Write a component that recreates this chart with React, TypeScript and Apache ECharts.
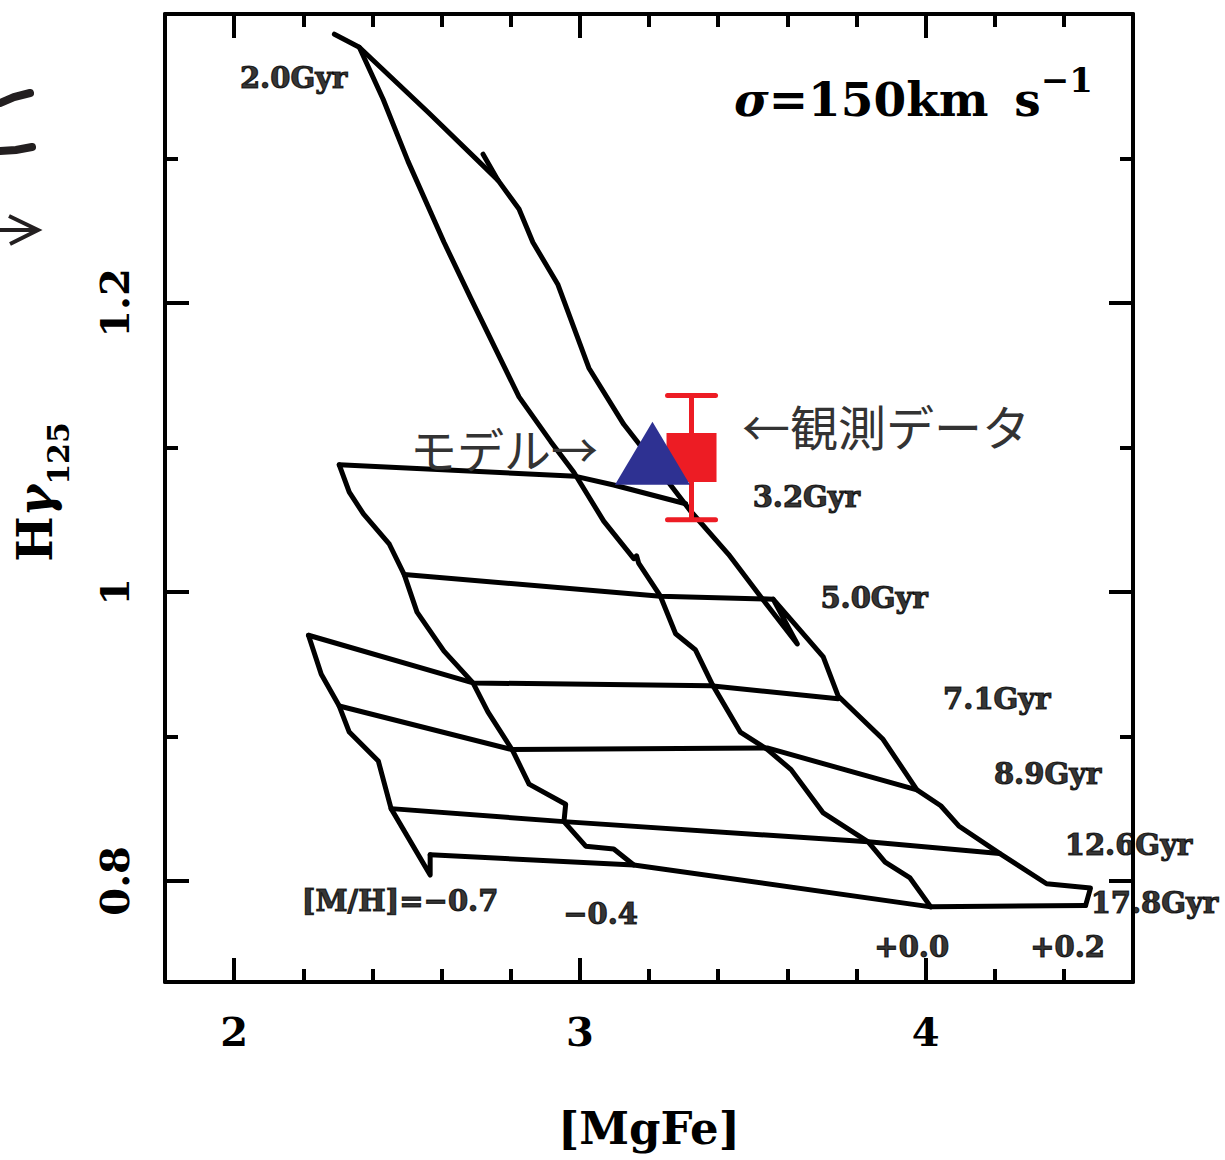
import React, { useEffect, useRef } from "react";
import * as echarts from "echarts";

// ---- axis ticks ----
const xMajorTicks = [2, 3, 4];
const xMinorTicks = [2.2, 2.4, 2.6, 2.8, 3.2, 3.4, 3.6, 3.8, 4.2, 4.4];
const yMajorTicks = [0.8, 1.0, 1.2];
const yMinorTicks = [0.9, 1.1, 1.3];

// ---- model grid: metallicity tracks ([MgFe], Hγ125) ----
const trackM07 = [[2.215, 0.970], [2.252, 0.943], [2.304, 0.921], [2.333, 0.903], [2.417, 0.883], [2.454, 0.850], [2.567, 0.804], [2.567, 0.818]];
const trackM04 = [[2.304, 1.088], [2.333, 1.069], [2.374, 1.054], [2.449, 1.033], [2.492, 1.012], [2.529, 0.986], [2.607, 0.959], [2.691, 0.937], [2.734, 0.917], [2.806, 0.890], [2.853, 0.867], [2.959, 0.853], [2.954, 0.841], [3.017, 0.824], [3.098, 0.822], [3.156, 0.811]];
const trackP00 = [[2.362, 1.377], [2.431, 1.341], [2.503, 1.298], [2.607, 1.242], [2.685, 1.203], [2.824, 1.135], [2.916, 1.104], [2.982, 1.083], [3.069, 1.049], [3.156, 1.023], [3.164, 1.025], [3.170, 1.020], [3.233, 0.997], [3.277, 0.971], [3.334, 0.960], [3.383, 0.936], [3.464, 0.903], [3.542, 0.891], [3.611, 0.877], [3.704, 0.847], [3.834, 0.827], [3.883, 0.813], [3.955, 0.802], [4.015, 0.782]];
const trackP02 = [[2.720, 1.303], [2.763, 1.285], [2.824, 1.265], [2.864, 1.242], [2.936, 1.213], [3.026, 1.155], [3.127, 1.116], [3.176, 1.101], [3.320, 1.056], [3.430, 1.026], [3.522, 0.997], [3.629, 0.964], [3.559, 0.995], [3.704, 0.955], [3.747, 0.928], [3.877, 0.898], [3.975, 0.863], [4.044, 0.852], [4.096, 0.838], [4.214, 0.819], [4.350, 0.798], [4.477, 0.795], [4.463, 0.783]];

// ---- model grid: age lines ----
const age2_0 = [[2.290, 1.386], [2.362, 1.377], [2.561, 1.332], [2.763, 1.285]];
const age3_2 = [[2.304, 1.088], [2.988, 1.080], [3.098, 1.074], [3.306, 1.061]];
const age5_0 = [[2.492, 1.012], [3.233, 0.997], [3.559, 0.995]];
const age7_1 = [[2.215, 0.970], [2.691, 0.937], [3.378, 0.935], [3.747, 0.926]];
const age8_9 = [[2.304, 0.921], [2.801, 0.891], [3.542, 0.892], [3.975, 0.863]];
const age12_6 = [[2.454, 0.850], [2.954, 0.841], [3.834, 0.827], [4.214, 0.819]];
const age17_8 = [[2.567, 0.818], [3.156, 0.811], [4.015, 0.782], [4.463, 0.783]];

// ---- points ----
const modelPoint = [[3.210, 1.096]];
const obsPoint = [[3.323, 1.093]];
const obsError = [[3.323, 1.093, 1.050, 1.136]];

// ---- annotations ----
const annotTexts = ["2.0Gyr", "3.2Gyr", "5.0Gyr", "7.1Gyr", "8.9Gyr", "12.6Gyr", "17.8Gyr", "[M/H]=\u22120.7", "\u22120.4", "+0.0", "+0.2"];
const annotX = [2.172, 3.655, 3.851, 4.206, 4.353, 4.587, 4.662, 2.480, 3.060, 3.960, 4.411];
const annotY = [1.356, 1.066, 0.996, 0.926, 0.874, 0.825, 0.785, 0.786, 0.777, 0.754, 0.754];

const SERIF = "DejaVu Serif";
const CJK = "Noto Sans CJK JP";

export default function App() {
  const ref = useRef<HTMLDivElement>(null);

  useEffect(() => {
    if (!ref.current) return;
    const chart = echarts.init(ref.current, undefined, { renderer: "svg" });

    const tickStyle = { color: "#000", width: 4 };
    const mkX = (position: string, major: boolean, main: boolean) => ({
      type: "value",
      position,
      min: 1.8,
      max: 4.6,
      axisLine: { show: main, onZero: false, lineStyle: { color: "#000", width: 4 } },
      axisTick: { show: true, inside: true, length: major ? 24 : 13, lineStyle: tickStyle, customValues: major ? xMajorTicks : xMinorTicks },
      axisLabel: main && position === "bottom"
        ? { show: true, customValues: xMajorTicks, margin: 29, fontSize: 40, fontFamily: SERIF, fontWeight: "bold", color: "#000" }
        : { show: false },
      splitLine: { show: false },
      ...(main && position === "bottom"
        ? { name: "[MgFe]", nameLocation: "middle", nameGap: 124, nameMoveOverlap: false, nameTextStyle: { fontSize: 45, fontFamily: SERIF, fontWeight: "bold", color: "#000" } }
        : {}),
    });
    const mkY = (position: string, major: boolean, main: boolean) => ({
      type: "value",
      position,
      min: 0.73,
      max: 1.4,
      axisLine: { show: main, onZero: false, lineStyle: { color: "#000", width: 4 } },
      axisTick: { show: true, inside: true, length: major ? 24 : 13, lineStyle: tickStyle, customValues: major ? yMajorTicks : yMinorTicks },
      axisLabel: main && position === "left"
        ? { show: true, customValues: yMajorTicks, rotate: 90, margin: 31, fontSize: 40, fontFamily: SERIF, fontWeight: "bold", color: "#000" }
        : { show: false },
      splitLine: { show: false },
      ...(main && position === "left"
        ? {
            name: "{h|H}{g|\u03b3}{s|125}",
            nameLocation: "middle",
            nameRotate: 90,
            nameGap: 106,
            nameMoveOverlap: false,
            nameTextStyle: {
              color: "#000",
              padding: [0, 0, 0, 12],
              rich: {
                h: { fontSize: 48, lineHeight: 48, verticalAlign: "top", fontFamily: SERIF, fontWeight: "bold", color: "#000" },
                g: { fontSize: 48, lineHeight: 48, verticalAlign: "top", fontFamily: SERIF, fontWeight: "bold", fontStyle: "italic", color: "#000" },
                s: { fontSize: 30, lineHeight: 30, padding: [32, 0, 0, 0], verticalAlign: "top", fontFamily: SERIF, fontWeight: "bold", color: "#000" },
              },
            },
          }
        : {}),
    });

    const lineSeries = (name: string, data: number[][]) => ({
      name,
      type: "line",
      data,
      xAxisIndex: 0,
      yAxisIndex: 0,
      showSymbol: false,
      symbol: "none",
      silent: true,
      lineStyle: { color: "#000", width: 5, cap: "round", join: "round" },
      z: 3,
    });

    const option: any = {
      animation: false,
      backgroundColor: "#fff",
      grid: { left: 165, right: 92, top: 14, bottom: 178, containLabel: false, outerBoundsMode: "none" },
      xAxis: [mkX("bottom", true, true), mkX("bottom", false, false), mkX("top", true, true), mkX("top", false, false)],
      yAxis: [mkY("left", true, true), mkY("left", false, false), mkY("right", true, true), mkY("right", false, false)],
      series: [
        lineSeries("[M/H]=-0.7", trackM07),
        lineSeries("[M/H]=-0.4", trackM04),
        lineSeries("[M/H]=+0.0", trackP00),
        lineSeries("[M/H]=+0.2", trackP02),
        lineSeries("2.0Gyr", age2_0),
        lineSeries("3.2Gyr", age3_2),
        lineSeries("5.0Gyr", age5_0),
        lineSeries("7.1Gyr", age7_1),
        lineSeries("8.9Gyr", age8_9),
        lineSeries("12.6Gyr", age12_6),
        lineSeries("17.8Gyr", age17_8),
        {
          name: "labels",
          type: "scatter",
          data: annotX.map((x, i) => [x, annotY[i]]),
          symbolSize: 1,
          clip: false,
          silent: true,
          itemStyle: { color: "rgba(0,0,0,0)" },
          label: {
            show: true,
            position: "inside",
            formatter: (p: any) => annotTexts[p.dataIndex],
            fontSize: 29,
            fontFamily: SERIF,
            fontWeight: "bold",
            color: "#000",
            textBorderColor: "#000",
            textBorderWidth: 1.2,
          },
          z: 4,
        },
        {
          name: "error",
          type: "custom",
          data: obsError,
          silent: true,
          z: 5,
          renderItem: (params: any, api: any) => {
            const x = api.value(0);
            const lo = api.value(2);
            const hi = api.value(3);
            const top = api.coord([x, hi]);
            const bot = api.coord([x, lo]);
            const hw = 24;
            const st = { stroke: "#ed1c24", lineWidth: 5, lineCap: "round" };
            return {
              type: "group",
              children: [
                { type: "line", shape: { x1: top[0], y1: top[1], x2: bot[0], y2: bot[1] }, style: { ...st, lineCap: "butt" } },
                { type: "line", shape: { x1: top[0] - hw, y1: top[1], x2: top[0] + hw, y2: top[1] }, style: st },
                { type: "line", shape: { x1: bot[0] - hw, y1: bot[1], x2: bot[0] + hw, y2: bot[1] }, style: st },
              ],
            };
          },
        },
        {
          name: "観測データ",
          type: "scatter",
          data: obsPoint,
          symbol: "rect",
          symbolSize: [50, 49],
          silent: true,
          itemStyle: { color: "#ed1c24", opacity: 1 },
          z: 6,
        },
        {
          name: "モデル",
          type: "scatter",
          data: modelPoint,
          symbol: "triangle",
          symbolSize: [75, 63],
          silent: true,
          itemStyle: { color: "#2e3192", opacity: 1 },
          z: 7,
        },
      ],
      graphic: [
        {
          type: "text",
          x: 734,
          y: 63,
          z: 10,
          style: {
            text: "{s|\u03c3}{n|=150km\u00a0\u2009s}{p|\u22121}",
            align: "left",
            verticalAlign: "top",
            fill: "#000",
            rich: {
              s: { fontSize: 47, lineHeight: 60, verticalAlign: "bottom", fontFamily: SERIF, fontWeight: "bold", fontStyle: "italic", fill: "#000" },
              n: { fontSize: 47, lineHeight: 60, verticalAlign: "bottom", fontFamily: SERIF, fontWeight: "bold", fill: "#000" },
              p: { fontSize: 34, lineHeight: 34, verticalAlign: "top", fontFamily: SERIF, fontWeight: "bold", fill: "#000" },
            },
          },
        },
        {
          type: "text",
          x: 410,
          y: 447,
          z: 10,
          style: { text: "モデル→", fontSize: 47, fontFamily: CJK, fill: "#333", align: "left", verticalAlign: "middle" },
        },
        {
          type: "text",
          x: 742,
          y: 425,
          z: 10,
          style: { text: "←観測データ", fontSize: 48, fontFamily: CJK, fill: "#333", align: "left", verticalAlign: "middle" },
        },
        {
          type: "polyline",
          shape: { points: [[0, 103], [14, 97], [30, 93]] },
          style: { stroke: "#231f20", lineWidth: 8, lineCap: "round", fill: null },
        },
        {
          type: "polyline",
          shape: { points: [[0, 151], [16, 150], [32, 147]] },
          style: { stroke: "#231f20", lineWidth: 8, lineCap: "round", fill: null },
        },
        {
          type: "polyline",
          shape: { points: [[0, 230], [36, 230]] },
          style: { stroke: "#231f20", lineWidth: 4, fill: null },
        },
        {
          type: "polyline",
          shape: { points: [[9, 216], [38, 230], [10, 244]] },
          style: { stroke: "#231f20", lineWidth: 4, lineJoin: "miter", fill: null },
        },
      ],
    };

    chart.setOption(option);
    return () => chart.dispose();
  }, []);

  return <div ref={ref} style={{ position: "absolute", left: 0, top: 0, width: 1225, height: 1160 }} />;
}
